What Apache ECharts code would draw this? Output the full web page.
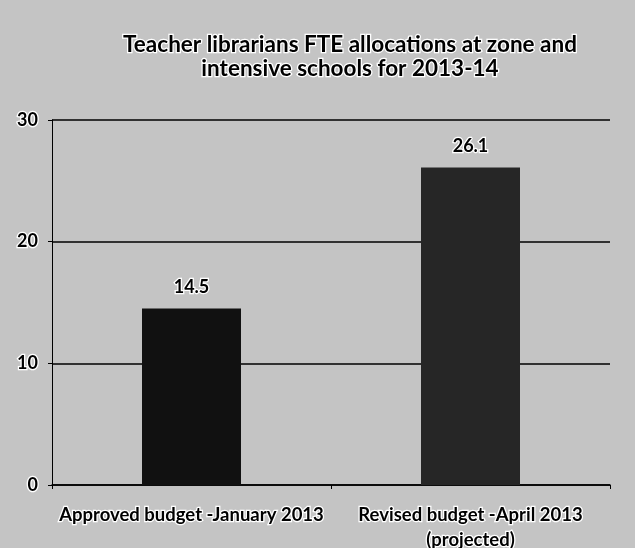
<!DOCTYPE html>
<html lang="en">
<head>
    <meta charset="UTF-8">
    <title>Teacher librarians FTE allocations</title>
    <script src="https://cdn.jsdelivr.net/npm/echarts@6/dist/echarts.min.js"></script>
    <style>
        html, body { margin: 0; padding: 0; background: #c4c4c4; }
        #chartmain { width: 635px; height: 548px; }
    </style>
</head>
<body>
<div id="chartmain"></div>
<script>
    // data
    var categories = ['Approved budget -January 2013', 'Revised budget -April 2013\n(projected)'];
    var values = [14.5, 26.1];
    var barColors = ['#111111', '#262626'];
    var yTicks = [0, 10, 20, 30];

    var myChart = echarts.init(document.getElementById('chartmain'));

    var option = {
        backgroundColor: '#c4c4c4',
        textStyle: { fontFamily: 'Lato' },
        title: {
            text: 'Teacher librarians FTE allocations at zone and\nintensive schools for 2013-14',
            left: 345,
            textAlign: 'center',
            top: 28,
            textStyle: {
                fontSize: 22.5,
                fontWeight: 'bold',
                color: '#000',
                lineHeight: 24,
                textBorderColor: '#fff',
                textBorderWidth: 2.5
            }
        },
        grid: { left: 52, right: 25, top: 120, bottom: 63, outerBoundsMode: 'none' },
        xAxis: {
            type: 'category',
            data: categories,
            axisLine: { lineStyle: { color: '#000', width: 1.5 } },
            axisTick: { show: true, length: 4, lineStyle: { color: '#000' } },
            axisLabel: {
                color: '#000',
                fontSize: 18.5,
                fontWeight: 'bold',
                lineHeight: 25,
                margin: 18,
                interval: 0,
                textBorderColor: '#fff',
                textBorderWidth: 2.5
            }
        },
        yAxis: {
            type: 'value',
            min: 0,
            max: 30,
            interval: 10,
            axisLine: { show: true, lineStyle: { color: '#000', width: 1 } },
            axisTick: { show: true, length: 4, lineStyle: { color: '#000' } },
            splitLine: { lineStyle: { color: '#000', width: 1.5 } },
            axisLabel: {
                color: '#000',
                fontSize: 18,
                fontWeight: 'bold',
                margin: 14,
                textBorderColor: '#fff',
                textBorderWidth: 2.5,
                formatter: function (v) { return yTicks.indexOf(v) >= 0 ? String(v) : ''; }
            }
        },
        series: [{
            name: 'FTE',
            type: 'bar',
            barWidth: 99,
            data: values.map(function (v, i) {
                return { value: v, itemStyle: { color: barColors[i] } };
            }),
            label: {
                show: true,
                position: 'top',
                distance: 12,
                color: '#000',
                fontSize: 18,
                fontWeight: 'bold',
                textBorderColor: '#fff',
                textBorderWidth: 2.5
            }
        }]
    };

    myChart.setOption(option);
</script>
</body>
</html>
